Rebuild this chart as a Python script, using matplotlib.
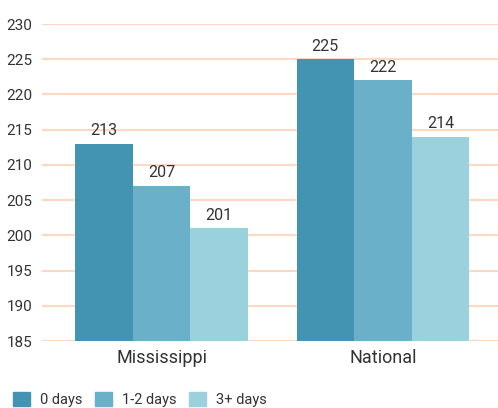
import matplotlib
matplotlib.use("Agg")
import matplotlib.pyplot as plt
import numpy as np

categories = ["Mississippi", "National"]
series_names = ["0 days", "1-2 days", "3+ days"]
values = {
    "0 days": [213, 225],
    "1-2 days": [207, 222],
    "3+ days": [201, 214],
}
colors = ["#4394b3", "#6ab0c8", "#9ad1dc"]
yticks = [185, 190, 195, 200, 205, 210, 215, 220, 225, 230]

plt.rcParams['font.family'] = ['Roboto', 'DejaVu Sans']
txt = "#333333"

fig = plt.figure(figsize=(4.98, 4.08), dpi=100)
ax = fig.add_axes([42/498, 1-341/408, 1-42/498, (341-24)/408])

x = np.arange(len(categories))
w = 0.26
for i, name in enumerate(series_names):
    xs = x + (i - 1) * w
    ax.bar(xs, [v - 185 for v in values[name]], width=w, bottom=185,
           color=colors[i], zorder=3, label=name)
    for xi, v in zip(xs, values[name]):
        ax.text(xi, v + 0.8, str(v), ha="center", va="bottom", fontsize=11.5, color=txt, zorder=4)

ax.set_ylim(185, 230)
ax.set_xlim(-0.54, 1.52)
ax.set_yticks(yticks)
ax.set_yticklabels([str(t) for t in yticks], fontsize=11, color=txt)
ax.yaxis.grid(True, color="#fdd9c3", linewidth=1.5, zorder=0)
ax.set_xticks(x)
ax.set_xticklabels(categories, fontsize=13, color=txt)
ax.tick_params(axis="both", length=0)
ax.tick_params(axis="y", pad=7)
ax.tick_params(axis="x", pad=6)
for s in ax.spines.values():
    s.set_visible(False)

handles = [plt.Rectangle((0, 0), 1, 1, color=c) for c in colors]
fig.legend(handles, series_names, loc="lower left", bbox_to_anchor=(0.0, -0.03),
           ncol=3, frameon=False, fontsize=10.5, handlelength=1.15, handleheight=1.15,
           handletextpad=0.7, columnspacing=0.85, labelcolor=txt)

fig.savefig("out.png", dpi=100)
